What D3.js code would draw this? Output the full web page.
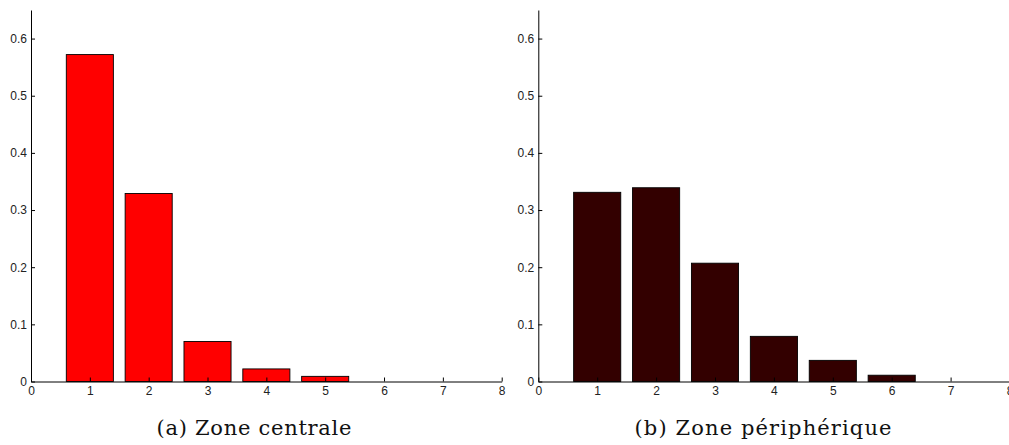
<!DOCTYPE html>
<html>
<head>
<meta charset="utf-8">
<script src="https://cdn.jsdelivr.net/npm/d3@7"></script>
<style>
  html, body { margin: 0; padding: 0; background: #fff; }
  svg { display: block; }
  .tick text { font-family: "Liberation Sans", Arial, sans-serif; font-size: 12px; fill: #222; }
  .caption { font-family: "DejaVu Serif", "Liberation Serif", serif; font-size: 21px; fill: #111; }
</style>
</head>
<body>
<svg id="chart" width="1009" height="445"></svg>
<script>
// Number of items (x categories) and their share in each zone
const categories = [1, 2, 3, 4, 5, 6, 7];
const centralValues = [0.572, 0.329, 0.070, 0.022, 0.009, 0, 0];
const peripheralValues = [0.331, 0.339, 0.207, 0.079, 0.037, 0.011, 0];
const xTicks = [0, 1, 2, 3, 4, 5, 6, 7, 8];
const yTicks = [0, 0.1, 0.2, 0.3, 0.4, 0.5, 0.6];
const captions = ["(a) Zone centrale", "(b) Zone périphérique"];

const svg = d3.select("#chart");

const panels = [
  { left: 31, right: 501.7, values: centralValues, fill: "#ff0000", caption: captions[0], captionX: 254, captionW: 195 },
  { left: 538.3, right: 1009.5, values: peripheralValues, fill: "#330000", caption: captions[1], captionX: 763, captionW: 257 }
];

const plotTop = 10, plotBottom = 381.5;

panels.forEach(p => {
  const x = d3.scaleLinear().domain([0, 8]).range([p.left, p.right]);
  const y = d3.scaleLinear().domain([0, 0.65]).range([plotBottom, plotTop]);
  const g = svg.append("g");
  const barW = 0.8;

  g.selectAll("rect.bar")
    .data(categories.map((c, i) => ({ c, v: p.values[i] })).filter(d => d.v > 0))
    .join("rect")
    .attr("class", "bar")
    .attr("x", d => x(d.c - barW / 2))
    .attr("width", d => x(d.c + barW / 2) - x(d.c - barW / 2))
    .attr("y", d => y(d.v))
    .attr("height", d => y(0) - y(d.v))
    .attr("fill", p.fill)
    .attr("stroke", "#000")
    .attr("stroke-width", 0.9);

  const yAxis = d3.axisLeft(y)
    .tickValues(yTicks)
    .tickSizeInner(-4)
    .tickSizeOuter(0)
    .tickPadding(4)
    .tickFormat(d => d === 0 ? "0" : d3.format(".1f")(d));
  const xAxis = d3.axisBottom(x)
    .tickValues(xTicks)
    .tickSizeInner(-4)
    .tickSizeOuter(0)
    .tickPadding(5)
    .tickFormat(d3.format("d"));

  const ya = g.append("g").attr("transform", `translate(${p.left},0)`).call(yAxis);
  const xa = g.append("g").attr("transform", `translate(0,${plotBottom})`).call(xAxis);
  [ya, xa].forEach(a => {
    a.selectAll("path, line").attr("stroke", "#000").attr("stroke-width", 1);
    a.attr("font-family", null).attr("font-size", null);
  });

  svg.append("text")
    .attr("class", "caption")
    .attr("x", p.captionX)
    .attr("y", 435)
    .attr("text-anchor", "middle")
    .attr("textLength", p.captionW)
    .attr("lengthAdjust", "spacing")
    .text(p.caption);
});
</script>
</body>
</html>
